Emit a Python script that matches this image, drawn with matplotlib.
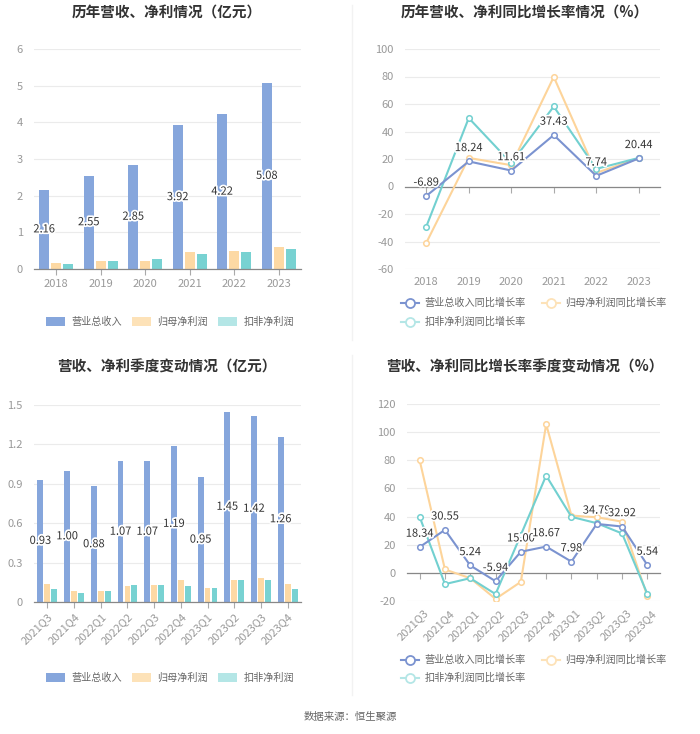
import matplotlib
matplotlib.use("Agg")
import matplotlib.pyplot as plt
import matplotlib.patheffects as pe
from matplotlib.lines import Line2D
from matplotlib.patches import Patch
import numpy as np

plt.rcParams['font.family'] = ['Noto Sans CJK SC', 'DejaVu Sans']

years = ['2018', '2019', '2020', '2021', '2022', '2023']
rev_y = [2.16, 2.55, 2.85, 3.92, 4.22, 5.08]
np_y = [0.17, 0.21, 0.23, 0.46, 0.50, 0.60]
kf_y = [0.14, 0.22, 0.26, 0.41, 0.46, 0.55]

rev_yg = [-6.89, 18.24, 11.61, 37.43, 7.74, 20.44]
np_yg = [-41.0, 20.8, 15.5, 79.7, 9.9, 20.5]
kf_yg = [-29.2, 49.8, 17.0, 58.2, 12.8, 20.8]

quarters = ['2021Q3', '2021Q4', '2022Q1', '2022Q2', '2022Q3', '2022Q4',
            '2023Q1', '2023Q2', '2023Q3', '2023Q4']
rev_q = [0.93, 1.00, 0.88, 1.07, 1.07, 1.19, 0.95, 1.45, 1.42, 1.26]
np_q = [0.14, 0.08, 0.08, 0.12, 0.13, 0.17, 0.11, 0.17, 0.18, 0.14]
kf_q = [0.10, 0.07, 0.08, 0.13, 0.13, 0.12, 0.11, 0.17, 0.17, 0.10]

rev_qg = [18.34, 30.55, 5.24, -5.94, 15.00, 18.67, 7.98, 34.79, 32.92, 5.54]
np_qg = [80.0, 2.4, -3.8, -18.5, -6.4, 105.6, 40.7, 39.5, 36.4, -16.6]
kf_qg = [39.8, -8.0, -3.8, -15.1, 27.0, 69.1, 39.8, 35.3, 28.0, -15.0]

C_REV = '#86a6dc'
C_NP = '#fdd9a4'
C_KF = '#78d2d2'
L_REV = '#7b93d0'
L_NP = '#fdd49a'
L_KF = '#72d0d0'
TICK = '#999999'
GRID = '#ebebeb'
TXT = '#333333'

W, H = 700, 734
fig = plt.figure(figsize=(7, 7.34), dpi=100)

def ax_at(l, r, t, b):
    return fig.add_axes([l / W, 1 - b / H, (r - l) / W, (b - t) / H])

stroke = [pe.withStroke(linewidth=2.5, foreground='white')]

def style(ax):
    for s in ['top', 'right', 'left']:
        ax.spines[s].set_visible(False)
    ax.spines['bottom'].set_color('#888888')
    ax.spines['bottom'].set_linewidth(0.9)
    ax.tick_params(axis='y', length=0, colors=TICK, labelsize=8, pad=8)
    ax.tick_params(axis='x', length=4, color='#aaaaaa', colors=TICK, labelsize=8, pad=3)
    ax.yaxis.grid(True, color=GRID, linewidth=0.8)
    ax.set_axisbelow(True)

def bar_panel(ax, cats, rev, npv, kf, ylim, yticks, ylabels, bw, off, rot):
    x = np.arange(len(cats))
    ax.bar(x - off, rev, bw, color=C_REV, zorder=2)
    ax.bar(x, npv, bw, color=C_NP, zorder=2)
    ax.bar(x + off, kf, bw, color=C_KF, zorder=2)
    for xi, v in zip(x, rev):
        ax.text(xi - off, v / 2, f'{v:.2f}', ha='center', va='center', fontsize=8,
                color=TXT, path_effects=stroke, zorder=5)
    ax.set_xlim(-0.5, len(cats) - 0.5)
    ax.set_ylim(*ylim)
    ax.set_yticks(yticks)
    ax.set_yticklabels(ylabels)
    ax.set_xticks(x)
    if rot:
        ax.set_xticklabels(cats, rotation=45, ha='right', rotation_mode='anchor')
    else:
        ax.set_xticklabels(cats)
    style(ax)

def line_panel(ax, cats, rev, npv, kf, ylim, yticks, rot):
    x = np.arange(len(cats))
    mk = dict(marker='o', markersize=4, markerfacecolor='white', markeredgewidth=1.1, linewidth=1.5)
    ax.plot(x, npv, color=L_NP, markeredgecolor=L_NP, zorder=3, **mk)
    ax.plot(x, kf, color=L_KF, markeredgecolor=L_KF, zorder=3, **mk)
    ax.plot(x, rev, color=L_REV, markeredgecolor=L_REV, zorder=4, **mk)
    for xi, v in zip(x, rev):
        ax.annotate(f'{v:.2f}', (xi, v), xytext=(0, 6), textcoords='offset points',
                    ha='center', va='bottom', fontsize=8, color=TXT,
                    path_effects=stroke, zorder=6)
    ax.set_xlim(-0.5, len(cats) - 0.5)
    ax.set_ylim(*ylim)
    ax.set_yticks(yticks)
    ax.set_yticklabels([str(t) for t in yticks])
    ax.set_xticks(x)
    ax.set_xticklabels([''] * len(cats))
    style(ax)
    ax.spines['bottom'].set_position(('data', 0))
    for xi, c in zip(x, cats):
        ypos = ylim[0] - (ylim[1] - ylim[0]) * 0.035
        if rot:
            ax.text(xi + 0.15, ypos, c, rotation=45, ha='right', va='top',
                    rotation_mode='anchor', fontsize=8, color=TICK)
        else:
            ax.text(xi, ypos, c, ha='center', va='top', fontsize=8, color=TICK)

# Panel 1
ax1 = ax_at(34, 301, 49, 269)
bar_panel(ax1, years, rev_y, np_y, kf_y, (0, 6), [0, 1, 2, 3, 4, 5, 6],
          ['0', '1', '2', '3', '4', '5', '6'], 0.225, 0.27, False)
# Panel 2
ax2 = ax_at(405, 660, 49, 269)
line_panel(ax2, years, rev_yg, np_yg, kf_yg, (-60, 100), list(range(-60, 101, 20)), False)
# Panel 3
ax3 = ax_at(34, 301, 405, 602)
bar_panel(ax3, quarters, rev_q, np_q, kf_q, (0, 1.5), [0, 0.3, 0.6, 0.9, 1.2, 1.5],
          ['0', '0.3', '0.6', '0.9', '1.2', '1.5'], 0.22, 0.26, True)
# Panel 4
ax4 = ax_at(407, 660, 404, 601)
line_panel(ax4, quarters, rev_qg, np_qg, kf_qg, (-20, 120), list(range(-20, 121, 20)), True)

# Titles
tkw = dict(ha='center', va='center', fontsize=10.5, fontweight='bold', color=TXT)
fig.text(167 / W, 1 - 13 / H, '历年营收、净利情况（亿元）', **tkw)
fig.text(525 / W, 1 - 13 / H, '历年营收、净利同比增长率情况（%）', **tkw)
fig.text(167 / W, 1 - 367 / H, '营收、净利季度变动情况（亿元）', **tkw)
fig.text(525 / W, 1 - 367 / H, '营收、净利同比增长率季度变动情况（%）', **tkw)

LFS = 7.3
# Bar legends
bar_handles = [Patch(facecolor=C_REV, edgecolor='none'),
               Patch(facecolor='#fde2b8', edgecolor='none'),
               Patch(facecolor='#b4e6e6', edgecolor='none')]
bar_labels = ['营业总收入', '归母净利润', '扣非净利润']
for yc in (322, 678):
    fig.legend(bar_handles, bar_labels, loc='center', bbox_to_anchor=(170 / W, 1 - yc / H),
               ncol=3, frameon=False, fontsize=LFS, handlelength=1.9, handleheight=1.0,
               columnspacing=1.0, handletextpad=0.6, labelcolor='#666666')

def line_handle(c):
    return Line2D([0], [0], color=c, marker='o', markersize=6.5, markerfacecolor='white',
                  markeredgecolor=c, markeredgewidth=1.3, linewidth=1.5)

for y1, y2 in ((303, 322), (660, 678)):
    fig.legend([line_handle(L_REV), line_handle('#fde2b8')],
               ['营业总收入同比增长率', '归母净利润同比增长率'],
               loc='center left', bbox_to_anchor=(399 / W, 1 - y1 / H), ncol=2,
               frameon=False, fontsize=LFS, handlelength=1.8, columnspacing=1.6,
               handletextpad=0.5, labelcolor='#666666', borderaxespad=0, borderpad=0.2)
    fig.legend([line_handle('#b4e6e6')], ['扣非净利润同比增长率'],
               loc='center left', bbox_to_anchor=(399 / W, 1 - y2 / H), ncol=1,
               frameon=False, fontsize=LFS, handlelength=1.8,
               handletextpad=0.5, labelcolor='#666666', borderaxespad=0, borderpad=0.2)

# divider lines
fig.add_artist(Line2D([352 / W, 352 / W], [1 - 5 / H, 1 - 340 / H], color='#f2f2f2', linewidth=1))
fig.add_artist(Line2D([352 / W, 352 / W], [1 - 355 / H, 1 - 695 / H], color='#f2f2f2', linewidth=1))

fig.text(350 / W, 1 - 717 / H, '数据来源：恒生聚源', ha='center', va='center', fontsize=7.5, color='#666666')

fig.savefig('out.png', dpi=100, facecolor='white')
